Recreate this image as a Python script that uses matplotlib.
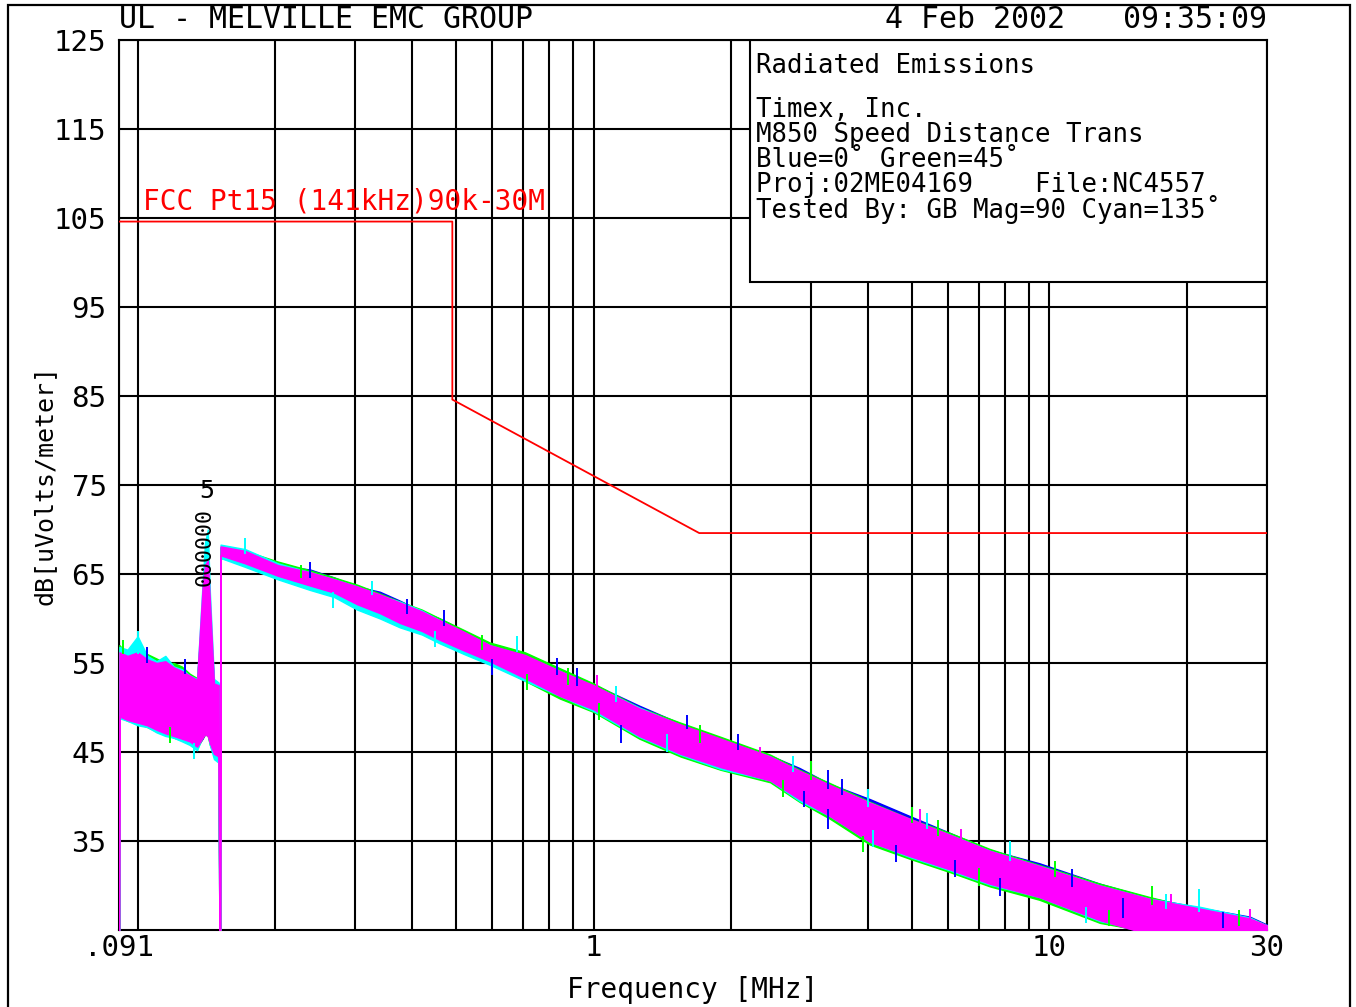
import matplotlib
matplotlib.use('Agg')
import matplotlib.pyplot as plt
from matplotlib.patches import Rectangle
from matplotlib.ticker import NullFormatter

plt.rcParams['font.family'] = ['DejaVu Sans Mono', 'DejaVu Sans']

# sweep frequencies [MHz] (two sub-bands, gap at ~150 kHz)
freq = [0.091, 0.0912, 0.095, 0.1, 0.105, 0.11, 0.115, 0.12, 0.125, 0.13,
        0.135, 0.1388, 0.1405, 0.1425, 0.144, 0.147, 0.1505, 0.1512, 0.1516, 0.152,
        0.172, 0.203, 0.239, 0.27, 0.303, 0.34, 0.376, 0.42, 0.46, 0.52,
        0.592, 0.707, 0.844, 1.0, 1.26, 1.55, 1.9, 2.44, 2.83, 3.3,
        4.04, 4.94, 6.05, 7.4, 9.5, 12.9, 16.6, 21.4, 27.5, 30]

# upper / lower edge of each trace's noise band [dBuV/m]
blue_hi = [20, 56.5, 55.6, 56.2, 55.4, 55.0, 55.2, 54.8, 54.0, 53.5,
           53.0, 62, 64, 63, 60, 52.8, 52.6, 20, 20, 68.0,
           67.2, 66.0, 65.5, 64.6, 63.6, 63.0, 62.0, 60.8, 60.0, 58.6,
           57.1, 56.0, 54.3, 52.6, 50.2, 48.2, 46.5, 44.6, 43.2, 41.4,
           39.7, 37.8, 35.9, 34.0, 32.5, 30.2, 28.6, 27.5, 26.5, 25.6]
blue_lo = [20, 49.2, 48.6, 48.5, 48.0, 47.5, 47.2, 46.7, 46.5, 46.2,
           45.6, 46.5, 47, 47, 46, 44.8, 44.4, 20, 20, 67.0,
           66.0, 64.8, 63.6, 62.8, 61.6, 60.6, 59.4, 58.5, 57.6, 56.3,
           55.0, 53.3, 51.2, 49.7, 46.6, 44.6, 43.2, 41.7, 39.6, 37.6,
           34.8, 33.1, 31.6, 30.0, 28.5, 26.0, 24.6, 24, 24, 24]

green_hi = [20, 57.0, 56.0, 55.8, 56.0, 55.5, 55.0, 55.0, 54.6, 53.8,
            53.3, 61, 63, 62, 59, 52.5, 52.4, 20, 20, 67.8,
            67.6, 66.4, 65.4, 64.6, 63.8, 62.8, 61.9, 61.0, 60.0, 58.7,
            57.3, 56.2, 54.4, 52.7, 50.0, 48.3, 46.7, 44.7, 43.0, 41.5,
            39.4, 37.5, 35.9, 34.1, 32.3, 30.2, 28.7, 27.3, 26.4, 25.5]
green_lo = [20, 49.0, 48.5, 48.2, 47.8, 47.3, 47.0, 46.6, 46.3, 46.0,
            45.4, 46.6, 47, 46.8, 45.8, 44.6, 44.3, 20, 20, 66.8,
            66.2, 64.6, 63.4, 62.6, 61.3, 60.3, 59.2, 58.3, 57.3, 56.2,
            55.1, 53.0, 51.0, 49.5, 46.5, 44.5, 43.0, 41.6, 39.4, 37.5,
            34.6, 33.0, 31.5, 29.9, 28.4, 25.8, 24.8, 24, 24, 24]

cyan_hi = [20, 56.8, 56.5, 58.0, 55.8, 55.2, 55.8, 54.6, 54.3, 53.6,
           53.2, 64, 68.5, 70, 63, 53.2, 52.8, 20, 20, 68.3,
           67.8, 66.2, 65.2, 64.4, 63.6, 62.6, 61.9, 60.9, 59.8, 58.4,
           57.0, 55.8, 54.1, 52.4, 50.0, 48.0, 46.4, 44.5, 42.8, 41.2,
           39.3, 37.4, 35.7, 33.9, 32.2, 30.0, 28.5, 27.6, 26.4, 25.5]
cyan_lo = [20, 48.8, 48.5, 48.0, 47.8, 47.2, 46.8, 46.6, 46.2, 45.8,
           45.2, 46.8, 47.2, 47, 45.8, 44.2, 43.8, 20, 20, 66.8,
           65.8, 64.4, 63.2, 62.4, 61.0, 60.0, 59.0, 58.2, 57.2, 56.0,
           54.8, 53.0, 51.3, 49.6, 46.7, 44.7, 43.1, 41.8, 39.5, 37.8,
           34.9, 33.2, 31.7, 30.1, 28.7, 26.0, 24.8, 24, 24, 24]

mag_hi = [20, 56.2, 55.8, 56.2, 55.4, 55.0, 55.2, 54.5, 54.1, 53.6,
          53.1, 63.5, 66.0, 66.5, 62.0, 52.7, 52.5, 20, 20, 68.1,
          67.6, 66.0, 65.2, 64.4, 63.6, 62.7, 61.8, 60.8, 59.8, 58.5,
          57.0, 55.9, 54.1, 52.5, 49.9, 48.1, 46.5, 44.5, 42.9, 41.3,
          39.3, 37.5, 35.7, 33.9, 32.2, 30.0, 28.5, 27.4, 26.3, 25.5]
mag_lo = [20, 49.0, 48.6, 48.3, 48.0, 47.5, 47.1, 46.8, 46.5, 46.2,
          45.6, 46.6, 47.0, 46.8, 46.0, 44.8, 44.5, 20, 20, 67.1,
          66.2, 64.8, 63.7, 62.9, 61.6, 60.6, 59.5, 58.6, 57.6, 56.4,
          55.2, 53.3, 51.3, 49.8, 46.8, 44.8, 43.3, 41.8, 39.7, 37.8,
          34.9, 33.3, 31.8, 30.2, 28.7, 26.1, 24.5, 24, 24, 24]

# single noise spikes poking out of the band: frequency, bottom, top
blue_spk_f = [0.105, 0.127, 0.239, 0.39, 0.47, 0.6, 0.83, 0.92, 1.15, 1.6,
              2.07, 2.9, 3.26, 3.26, 3.5, 4.6, 6.2, 7.8, 11.2, 14.5, 24.0]
blue_spk_lo = [55.0, 53.8, 64.6, 60.5, 59.2, 53.6, 53.6, 52.4, 46.0, 47.6,
               45.2, 38.8, 40.8, 36.4, 40.2, 32.6, 31.0, 28.8, 29.8, 26.4, 25.2]
blue_spk_hi = [56.8, 55.4, 66.4, 62.2, 61.0, 55.5, 55.6, 54.4, 48.0, 49.2,
               47.0, 40.6, 43.0, 38.6, 42.0, 34.6, 32.9, 30.8, 31.8, 28.6, 27.0]

green_spk_f = [0.093, 0.118, 0.228, 0.57, 0.715, 0.88, 1.03, 1.71, 2.6, 3.0,
               3.9, 5.0, 5.7, 7.0, 10.3, 13.5, 16.8, 26.0]
green_spk_lo = [56.0, 46.0, 64.6, 56.5, 52.0, 52.5, 48.6, 46.0, 40.0, 41.8,
                33.8, 37.0, 35.6, 30.0, 31.0, 25.4, 27.8, 25.5]
green_spk_hi = [57.6, 47.8, 66.0, 58.2, 53.8, 54.4, 50.5, 48.0, 41.8, 44.0,
                35.6, 38.8, 37.4, 32.0, 32.8, 27.2, 30.0, 27.2]

cyan_spk_f = [0.1, 0.133, 0.172, 0.268, 0.326, 0.45, 0.68, 1.12, 1.45, 2.74,
              4.0, 4.1, 5.4, 8.2, 12.0, 18.0, 21.3]
cyan_spk_lo = [56.0, 44.2, 67.2, 61.2, 62.6, 56.8, 56.2, 50.6, 45.0, 42.8,
               38.8, 34.3, 36.4, 32.8, 25.8, 27.4, 27.0]
cyan_spk_hi = [58.6, 46.0, 69.0, 63.0, 64.2, 58.6, 58.0, 52.4, 47.0, 44.6,
               40.8, 36.2, 38.2, 35.0, 27.6, 29.0, 29.6]

mag_spk_f = [1.02, 2.32, 5.2, 6.4, 18.5, 27.6]
mag_spk_lo = [51.5, 43.6, 36.5, 34.5, 27.0, 25.4]
mag_spk_hi = [53.6, 45.6, 38.6, 36.4, 29.0, 27.4]

# FCC Part 15 limit
limit_f = [0.091, 0.49, 0.49, 1.705, 30]
limit_db = [104.6, 104.6, 84.6, 69.6, 69.6]

y_ticks = [35, 45, 55, 65, 75, 85, 95, 105, 115, 125]
x_ticks = [0.091, 1, 10, 30]
x_tick_labels = ['.091', '1', '10', '30']
x_grid = [0.1, 0.2, 0.3, 0.4, 0.5, 0.6, 0.7, 0.8, 0.9,
          2, 3, 4, 5, 6, 7, 8, 9, 20]

info_lines = ['Radiated Emissions', '', 'Timex, Inc.',
              'M850 Speed Distance Trans',
              'Blue=0\u02da Green=45\u02da',
              'Proj:02ME04169    File:NC4557',
              'Tested By: GB Mag=90 Cyan=135\u02da']

W, H = 1356, 1007
fig = plt.figure(figsize=(W / 100, H / 100), dpi=100)
ax = fig.add_axes([119 / W, 1 - 930 / H, 1148 / W, 890 / H])

ax.set_xscale('log')
ax.set_xlim(0.091, 30)
ax.set_ylim(25, 125)
ax.set_xticks(x_ticks)
ax.set_xticklabels(x_tick_labels)
ax.set_xticks(x_grid, minor=True)
ax.xaxis.set_minor_formatter(NullFormatter())
ax.set_yticks(y_ticks)
ax.tick_params(which='both', length=0, labelsize=21)
ax.tick_params(axis='y', pad=9)
ax.tick_params(axis='x', pad=3)
ax.set_axisbelow(True)
ax.grid(which='both', color='black', lw=1.5)
for s in ax.spines.values():
    s.set_linewidth(1.5)

# info box hides the grid
ax.add_patch(Rectangle(((750 - 119) / 1148, (930 - 282) / 890),
                       (1267 - 750) / 1148, 1 - (930 - 282) / 890,
                       transform=ax.transAxes, fc='white', ec='black',
                       lw=1.5, zorder=1.5))

traces = [(blue_hi, blue_lo, blue_spk_f, blue_spk_lo, blue_spk_hi, '#0000ff'),
          (green_hi, green_lo, green_spk_f, green_spk_lo, green_spk_hi, '#00ff00'),
          (cyan_hi, cyan_lo, cyan_spk_f, cyan_spk_lo, cyan_spk_hi, '#00ffff'),
          (mag_hi, mag_lo, mag_spk_f, mag_spk_lo, mag_spk_hi, '#ff00ff')]
for hi, lo, sf, slo, shi, c in traces:
    ax.fill_between(freq, lo, hi, color=c, lw=1.0, zorder=3)
for hi, lo, sf, slo, shi, c in traces:
    ax.vlines(sf, slo, shi, color=c, lw=1.4, zorder=3.5)

ax.plot(limit_f, limit_db, color='#ff0000', lw=1.3, zorder=4)
ax.text(0.1025, 105.9, 'FCC Pt15 (141kHz)90k-30M', color='#ff0000',
        fontsize=20, va='baseline', ha='left', zorder=4)

# marker labels at the 141 kHz spike
ax.text(0.1405, 63.6, '000000', rotation=90, fontsize=15.5, ha='center',
        va='bottom', zorder=5)
ax.text(0.1415, 73.0, '5', fontsize=18, ha='center', va='bottom', zorder=5)

ax.set_xlabel('Frequency [MHz]', fontsize=20, labelpad=10)
ax.set_ylabel('dB[uVolts/meter]', fontsize=18, labelpad=-2)

fig.text(119 / W, 1 - 19 / H, 'UL - MELVILLE EMC GROUP', fontsize=21.5,
         ha='left', va='center')
fig.text(1065 / W, 1 - 19 / H, '4 Feb 2002', fontsize=21.5, ha='right', va='center')
fig.text(1267 / W, 1 - 19 / H, '09:35:09', fontsize=21.5, ha='right', va='center')

y = 66
for line in info_lines:
    if line == '':
        y += 19
        continue
    fig.text(756 / W, 1 - y / H, line, fontsize=18.5, ha='left', va='center')
    y += 25

fig.add_artist(Rectangle((8 / W, -0.01), (1350 - 8) / W, 1.01 - 5 / H,
                         transform=fig.transFigure, fill=False, ec='black', lw=1.6))

fig.savefig('out.png', dpi=100)
